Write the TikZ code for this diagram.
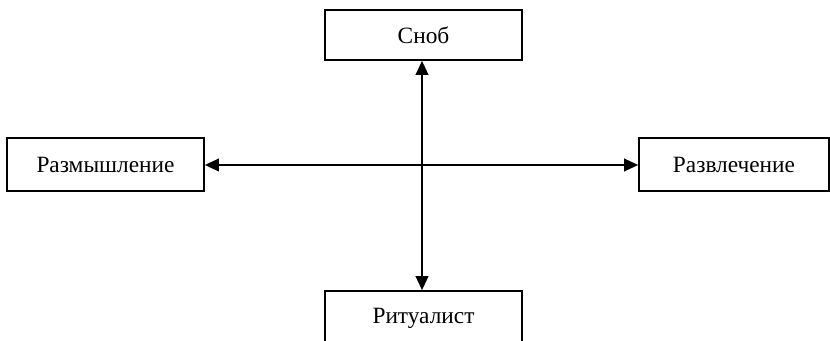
\documentclass[tikz,border=0pt]{standalone}
\usepackage{fontspec}
\setmainfont{Liberation Serif}
\usetikzlibrary{arrows.meta}
\begin{document}
\begin{tikzpicture}[x=0.75pt,y=-0.75pt,
  box/.style={draw,line width=1.3pt,rectangle,inner sep=0pt,
    minimum width=147.75pt,font=\fontsize{17.5}{20}\selectfont},
  link/.style={line width=1.3pt,{Triangle[length=10.5pt,width=9.5pt]}-{Triangle[length=10.5pt,width=9.5pt]}}]
  \useasboundingbox (0,0) rectangle (830,341);
  \begin{scope}
    \clip (0,0) rectangle (830,341);
    \node[box,minimum height=37.5pt] (snob) at (423.5,35) {Сноб};
    \node[box,minimum height=39.75pt] (razm) at (105.5,164.5) {Размышление};
    \node[box,minimum height=39.75pt,minimum width=142.5pt] (razv) at (734,164.5) {Развлечение};
    \node[box,minimum height=40.5pt] (ritu) at (423.5,318) {\raisebox{2pt}{Ритуалист}};
  \end{scope}
  \draw[link] (snob.south -| 422,0) -- (ritu.north -| 422,0);
  \draw[link] (razm.east |- 0,165) -- (razv.west |- 0,165);
\end{tikzpicture}
\end{document}
